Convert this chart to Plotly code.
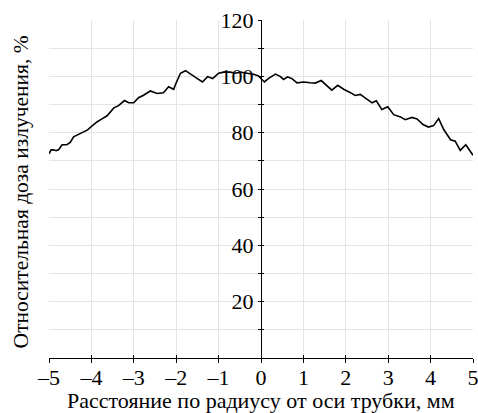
import plotly.graph_objects as go

x_mm = [-5.00, -4.95, -4.89, -4.83, -4.77, -4.69, -4.58, -4.50, -4.42, -4.30,
        -4.18, -4.09, -3.99, -3.87, -3.75, -3.63, -3.47, -3.36, -3.22, -3.12,
        -3.00, -2.89, -2.77, -2.61, -2.45, -2.30, -2.18, -2.06, -2.00, -1.90,
        -1.78, -1.67, -1.51, -1.38, -1.26, -1.14, -1.00, -0.88, -0.72, -0.61,
        -0.49, -0.33, -0.17, -0.06, 0.00, 0.08, 0.18, 0.34, 0.46, 0.53,
        0.63, 0.73, 0.85, 1.01, 1.16, 1.28, 1.42, 1.56, 1.67, 1.81,
        1.95, 2.11, 2.22, 2.34, 2.46, 2.62, 2.72, 2.85, 2.99, 3.13,
        3.29, 3.40, 3.56, 3.68, 3.82, 3.95, 4.07, 4.19, 4.31, 4.47,
        4.58, 4.70, 4.83, 5.00]
dose_pct = [72.5, 73.9, 73.9, 73.6, 74.0, 75.7, 75.7, 76.5, 78.5, 79.5,
            80.2, 81.0, 82.3, 83.8, 84.9, 86.0, 88.8, 89.6, 91.4, 90.6,
            90.6, 92.4, 93.3, 94.8, 93.9, 94.2, 96.3, 95.4, 97.7, 101.1,
            102.0, 100.8, 99.3, 98.0, 99.9, 99.2, 101.1, 101.5, 101.5, 101.1,
            101.5, 101.1, 100.7, 100.1, 99.3, 98.0, 99.3, 100.8, 99.9, 98.9,
            99.8, 99.2, 97.7, 98.0, 97.7, 97.6, 98.5, 96.5, 95.1, 96.8,
            95.4, 94.2, 93.2, 93.6, 92.4, 90.6, 91.3, 88.2, 89.2, 86.4,
            85.6, 84.6, 85.4, 84.9, 82.9, 82.0, 82.5, 85.0, 81.1, 77.5,
            77.0, 73.7, 75.7, 72.0]

x_ticks = [-5, -4, -3, -2, -1, 0, 1, 2, 3, 4, 5]
y_ticks = [20, 40, 60, 80, 100, 120]
x_range = [-5, 5]
y_range = [0, 120]

FONT = "'Liberation Serif', 'Times New Roman', Tinos, serif"
GRID = "#e4e4e4"
fig = go.Figure()
fig.add_trace(go.Scatter(x=x_mm, y=dose_pct, mode="lines",
                         line=dict(color="black", width=1.6), showlegend=False,
                         cliponaxis=False, hoverinfo="skip"))
# invisible trace carrying the inner half of the crossing tick marks
fig.add_trace(go.Scatter(x=x_mm, y=dose_pct, mode="lines", xaxis="x2", yaxis="y2",
                         line=dict(color="rgba(0,0,0,0)", width=0), showlegend=False,
                         hoverinfo="skip"))

fig.update_layout(
    width=478, height=413,
    margin=dict(l=49, r=5, t=20, b=55, autoexpand=False),
    paper_bgcolor="white", plot_bgcolor="white",
    font=dict(family=FONT, color="black"),
    xaxis=dict(range=x_range, tickvals=x_ticks, automargin=False,
               ticktext=[("\u2013" + str(-v)) if v < 0 else str(v) for v in x_ticks],
               showgrid=True, gridcolor=GRID, gridwidth=1,
               zeroline=False, showline=True, linecolor="black", linewidth=1,
               ticks="outside", ticklen=4, tickcolor="black",
               ticklabeloverflow="allow", ticklabelstandoff=-4,
               tickfont=dict(size=22, family=FONT)),
    yaxis=dict(range=y_range, tickvals=y_ticks, anchor="free", position=0.5,
               automargin=False,
               showgrid=True, gridcolor=GRID, gridwidth=1,
               zeroline=False, showline=True, linecolor="black", linewidth=1,
               ticks="outside", ticklen=3, tickcolor="black",
               ticklabeloverflow="allow",
               tickfont=dict(size=22, family=FONT),
               minor=dict(dtick=10, showgrid=True, gridcolor=GRID,
                          ticks="outside", ticklen=3, tickcolor="black")),
    xaxis2=dict(range=x_range, tickvals=x_ticks, overlaying="x", anchor="y2",
                showgrid=False, zeroline=False, showline=False, showticklabels=False,
                ticks="inside", ticklen=3, tickcolor="black", automargin=False),
    yaxis2=dict(range=y_range, tickvals=y_ticks, overlaying="y", anchor="free",
                position=0.5, showgrid=False, zeroline=False, showline=False,
                showticklabels=False, ticks="inside", ticklen=2, tickcolor="black",
                automargin=False,
                minor=dict(dtick=10, ticks="inside", ticklen=2, tickcolor="black")),
    annotations=[
        dict(text="Расстояние по радиусу от оси трубки, мм", xref="paper", yref="paper",
             x=0.5, y=-0.125, showarrow=False, font=dict(size=22, family=FONT),
             xanchor="center", yanchor="middle"),
        dict(text="Относительная доза излучения, %", xref="paper", yref="paper",
             x=-0.066, y=0.49, showarrow=False, textangle=-90,
             font=dict(size=21.5, family=FONT), xanchor="center", yanchor="middle"),
    ],
)

fig.write_html("out.html", config={"displayModeBar": False},
               post_script="document.body.style.margin='0';document.body.style.padding='0';")
